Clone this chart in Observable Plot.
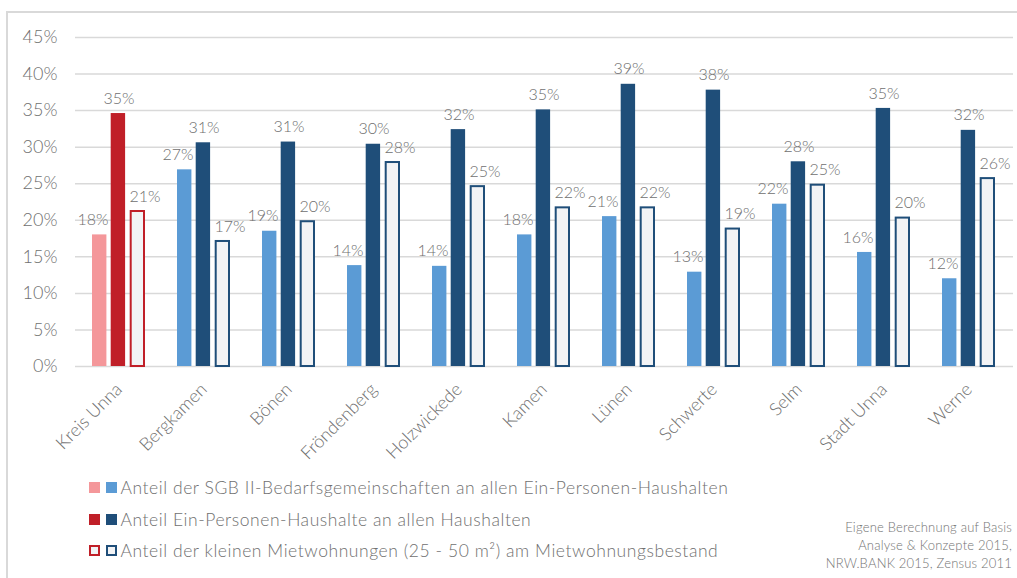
<!DOCTYPE html>
<html><head><meta charset="utf-8">
<script src="https://cdn.jsdelivr.net/npm/d3@7"></script>
<script src="https://cdn.jsdelivr.net/npm/@observablehq/plot@0.6"></script>
<style>
body{margin:0;background:#fff;font-family:Lato,sans-serif;font-weight:300;}
#wrap{position:relative;width:1017px;height:578px;overflow:hidden;background:#fff;}
#frame{position:absolute;left:6px;top:11px;right:-5px;bottom:-5px;border-top:2px solid #d9d9d9;border-left:2px solid #d9d9d9;}
#chart{position:absolute;left:0;top:0;}
.legend{position:absolute;left:89px;top:472px;font-size:17.5px;letter-spacing:0.56px;color:#707070;}
.row{display:flex;align-items:center;height:31.5px;white-space:nowrap;}
.sw{width:11px;height:11px;margin-right:5.5px;box-sizing:border-box;flex:none;}
.row span{margin-left:-1.5px;}
.source{position:absolute;right:5px;top:518px;text-align:right;font-size:13px;letter-spacing:0.2px;color:#737373;line-height:18px;}
svg text{font-weight:300;}
</style></head><body>
<div id="wrap">
<div id="frame"></div>
<div id="chart"></div>
<div class="legend">
 <div class="row"><div class="sw" style="background:#f4979a"></div><div class="sw" style="background:#5b9bd5"></div><span>Anteil der SGB II-Bedarfsgemeinschaften an allen Ein-Personen-Haushalten</span></div>
 <div class="row"><div class="sw" style="background:#c01f28"></div><div class="sw" style="background:#1f4e79"></div><span>Anteil Ein-Personen-Haushalte an allen Haushalten</span></div>
 <div class="row"><div class="sw" style="background:#f2f3f5;border:2px solid #c01f28"></div><div class="sw" style="background:#f2f3f5;border:2px solid #1f4e79"></div><span>Anteil der kleinen Mietwohnungen (25 - 50 m²) am Mietwohnungsbestand</span></div>
</div>
<div class="source">Eigene Berechnung auf Basis<br>Analyse &amp; Konzepte 2015,<br>NRW.BANK 2015, Zensus 2011</div>
</div>
<script>
const cities = ["Kreis Unna","Bergkamen","Bönen","Fröndenberg","Holzwickede","Kamen","Lünen","Schwerte","Selm","Stadt Unna","Werne"];
const sgbShare = [18.0, 26.9, 18.5, 13.8, 13.7, 18.0, 20.5, 12.9, 22.2, 15.6, 12.0];
const singleShare = [34.6, 30.6, 30.7, 30.4, 32.4, 35.1, 38.6, 37.8, 28.0, 35.3, 32.3];
const smallFlatShare = [21.2, 17.1, 19.8, 27.9, 24.6, 21.7, 21.7, 18.8, 24.8, 20.3, 25.7];
const yTicks = [0, 5, 10, 15, 20, 25, 30, 35, 40, 45];

const toRows = vals => cities.map((c, i) => ({city: c, v: vals[i]}));
const sgbRows = toRows(sgbShare), singleRows = toRows(singleShare), smallRows = toRows(smallFlatShare);
const isKreis = d => d.city === "Kreis Unna";
const lbl = d => Math.round(d.v) + "%";
const labelStyle = {fill: "#6f6f6f", fontSize: 16, dy: -15};

const chart = Plot.plot({
  width: 1017, height: 470,
  marginLeft: 75, marginRight: 4, marginTop: 37, marginBottom: 104,
  style: {fontFamily: "Lato, sans-serif", fontSize: "18px", color: "#6f6f6f", background: "transparent", overflow: "visible"},
  x: {domain: cities, paddingInner: 0.375, paddingOuter: 0.1875, tickRotate: -45, tickSize: 0, tickPadding: 20, label: null},
  y: {domain: [0, 45], ticks: yTicks, tickFormat: d => d + "%", tickSize: 0, tickPadding: 18, label: null},
  color: {type: "identity"},
  marks: [
    Plot.ruleY(yTicks, {stroke: "#d9d9d9", strokeWidth: 1.5}),
    Plot.barY(sgbRows, {x: "city", y: "v", fill: d => isKreis(d) ? "#f4979a" : "#5b9bd5", insetLeft: 0, insetRight: 38.6}),
    Plot.barY(singleRows, {x: "city", y: "v", fill: d => isKreis(d) ? "#c01f28" : "#1f4e79", insetLeft: 18.7, insetRight: 19.9}),
    Plot.barY(smallRows, {x: "city", y: "v", fill: "#f2f3f5", stroke: d => isKreis(d) ? "#c01f28" : "#1f4e79", strokeWidth: 2, insetLeft: 38.7, insetRight: 1.0}),
    Plot.text(sgbRows, {x: "city", y: "v", text: lbl, dx: -26, ...labelStyle}),
    Plot.text(singleRows, {x: "city", y: "v", text: lbl, dx: 0, ...labelStyle}),
    Plot.text(smallRows, {x: "city", y: "v", text: lbl, dx: 26, ...labelStyle})
  ]
});
document.getElementById("chart").appendChild(chart);
</script>
</body></html>
